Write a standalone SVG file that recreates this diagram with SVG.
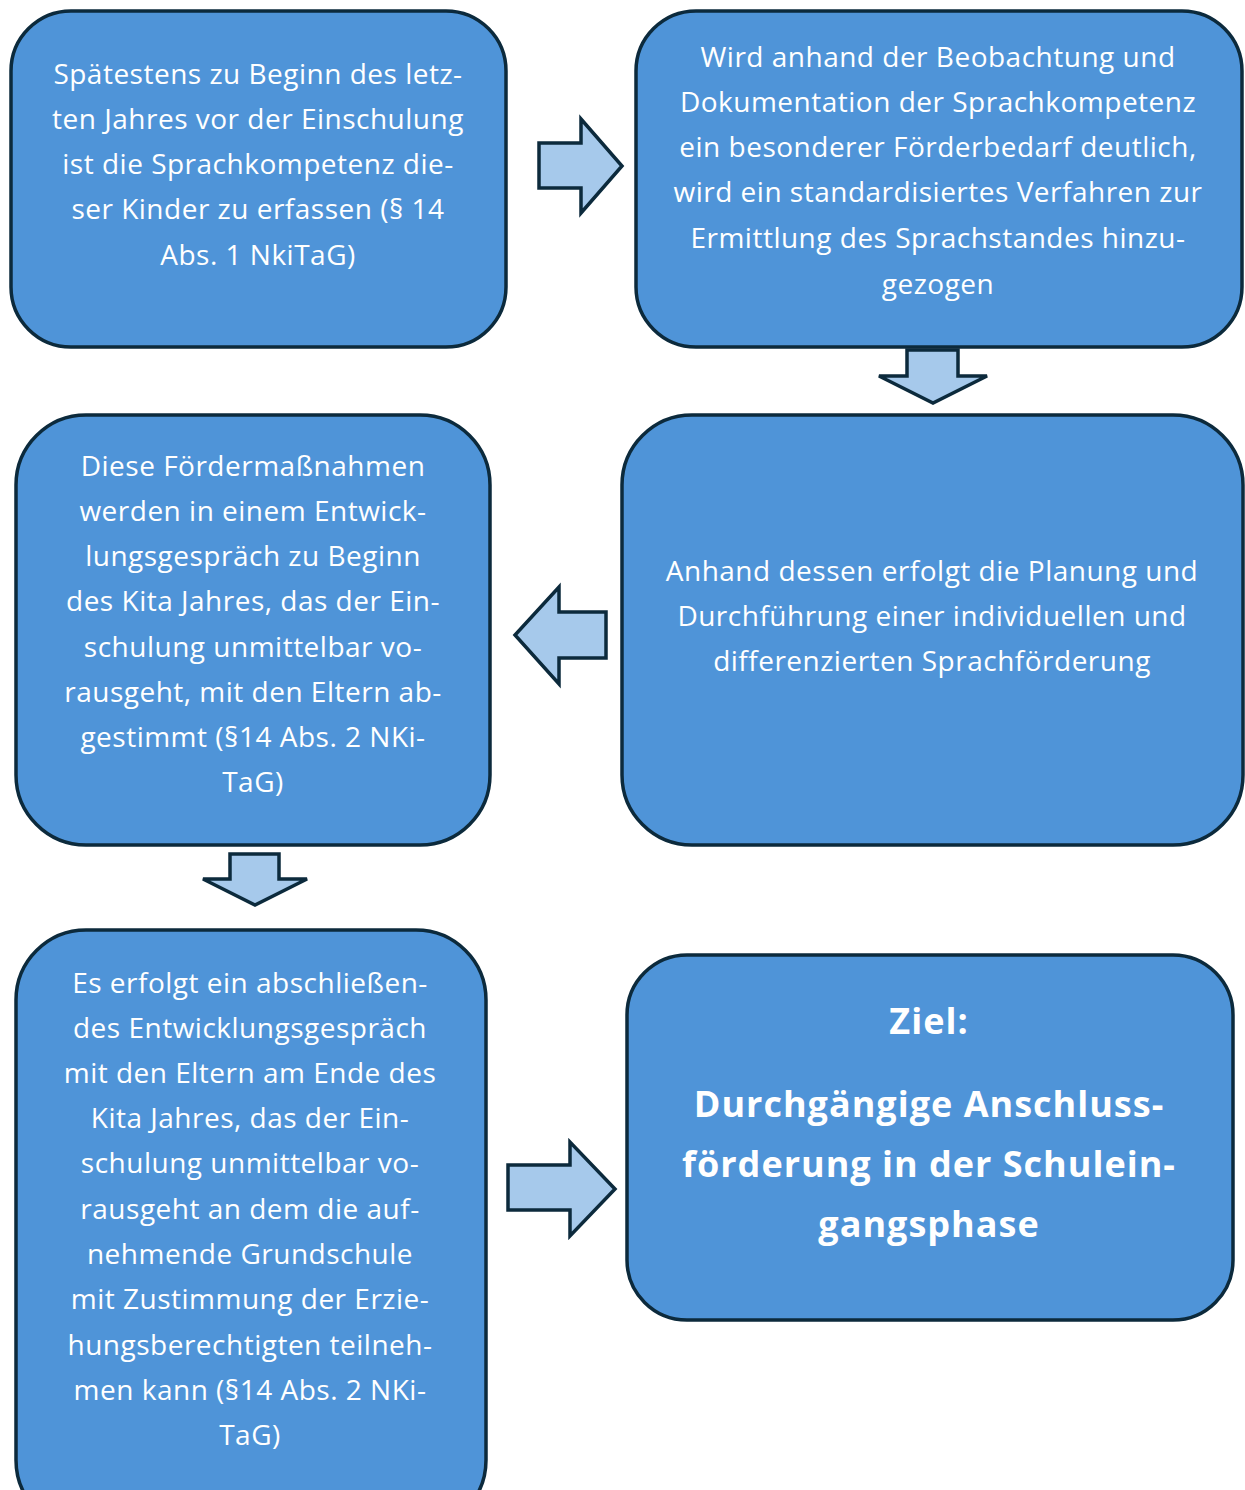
<svg xmlns="http://www.w3.org/2000/svg" width="1245" height="1490" viewBox="0 0 1245 1490">
<style>
.box{fill:#4f94d8;stroke:#0c2a3c;stroke-width:3.5}
.arr{fill:#a6c9eb;stroke:#0c2a3c;stroke-width:3.5;stroke-linejoin:miter}
.t{font-family:"Open Sans","Noto Sans",sans-serif;font-size:28px;letter-spacing:0.5px;fill:#ffffff;text-anchor:middle}
.b{font-family:"Open Sans","Noto Sans",sans-serif;font-weight:bold;font-size:36px;letter-spacing:1px;fill:#ffffff;text-anchor:middle}
</style>
<rect width="1245" height="1490" fill="#ffffff"/>
<g id="connectors">
<polygon class="arr" points="539,143 581,143 581,119 622,166 581,213 581,188 539,188"/>
<polygon class="arr" points="907,350 958,350 958,376 987,376 933,403 879,376 907,376"/>
<polygon class="arr" points="606,612 559,612 559,587 515,635 559,684 559,658 606,658"/>
<polygon class="arr" points="230,854 279,854 279,879 307,879 255,905 203,879 230,879"/>
<polygon class="arr" points="508,1165 570,1165 570,1142 615,1189 570,1236 570,1210 508,1210"/>
</g>
<g id="n1">
<rect class="box" x="11" y="11" width="495" height="336" rx="60"/>
<text class="t" x="258"><tspan x="258" y="84">Spätestens zu Beginn des letz-</tspan><tspan x="258" y="129">ten Jahres vor der Einschulung</tspan><tspan x="258" y="174">ist die Sprachkompetenz die-</tspan><tspan x="258" y="219">ser Kinder zu erfassen (§ 14</tspan><tspan x="258" y="265">Abs. 1 NkiTaG)</tspan></text>
</g>
<g id="n2">
<rect class="box" x="636" y="11" width="606" height="336" rx="60"/>
<text class="t"><tspan x="938" y="67">Wird anhand der Beobachtung und</tspan><tspan x="938" y="112">Dokumentation der Sprachkompetenz</tspan><tspan x="938" y="157">ein besonderer Förderbedarf deutlich,</tspan><tspan x="938" y="202">wird ein standardisiertes Verfahren zur</tspan><tspan x="938" y="248">Ermittlung des Sprachstandes hinzu-</tspan><tspan x="938" y="294">gezogen</tspan></text>
</g>
<g id="n3">
<rect class="box" x="622" y="415" width="621" height="430" rx="70"/>
<text class="t"><tspan x="932" y="581">Anhand dessen erfolgt die Planung und</tspan><tspan x="932" y="626">Durchführung einer individuellen und</tspan><tspan x="932" y="671">differenzierten Sprachförderung</tspan></text>
</g>
<g id="n4">
<rect class="box" x="16" y="415" width="474" height="430" rx="70"/>
<text class="t"><tspan x="253" y="476">Diese Fördermaßnahmen</tspan><tspan x="253" y="521">werden in einem Entwick-</tspan><tspan x="253" y="566">lungsgespräch zu Beginn</tspan><tspan x="253" y="611">des Kita Jahres, das der Ein-</tspan><tspan x="253" y="657">schulung unmittelbar vo-</tspan><tspan x="253" y="702">rausgeht, mit den Eltern ab-</tspan><tspan x="253" y="747">gestimmt (§14 Abs. 2 NKi-</tspan><tspan x="253" y="792">TaG)</tspan></text>
</g>
<g id="n5">
<rect class="box" x="16" y="930" width="470" height="600" rx="70"/>
<text class="t"><tspan x="250" y="993">Es erfolgt ein abschließen-</tspan><tspan x="250" y="1038">des Entwicklungsgespräch</tspan><tspan x="250" y="1083">mit den Eltern am Ende des</tspan><tspan x="250" y="1128">Kita Jahres, das der Ein-</tspan><tspan x="250" y="1173">schulung unmittelbar vo-</tspan><tspan x="250" y="1219">rausgeht an dem die auf-</tspan><tspan x="250" y="1264">nehmende Grundschule</tspan><tspan x="250" y="1309">mit Zustimmung der Erzie-</tspan><tspan x="250" y="1355">hungsberechtigten teilneh-</tspan><tspan x="250" y="1400">men kann (§14 Abs. 2 NKi-</tspan><tspan x="250" y="1445">TaG)</tspan></text>
</g>
<g id="n6">
<rect class="box" x="627" y="955" width="606" height="365" rx="60"/>
<text class="b"><tspan x="929" y="1034">Ziel:</tspan><tspan x="929" y="1117">Durchgängige Anschluss-</tspan><tspan x="929" y="1177">förderung in der Schulein-</tspan><tspan x="929" y="1237">gangsphase</tspan></text>
</g>
</svg>
